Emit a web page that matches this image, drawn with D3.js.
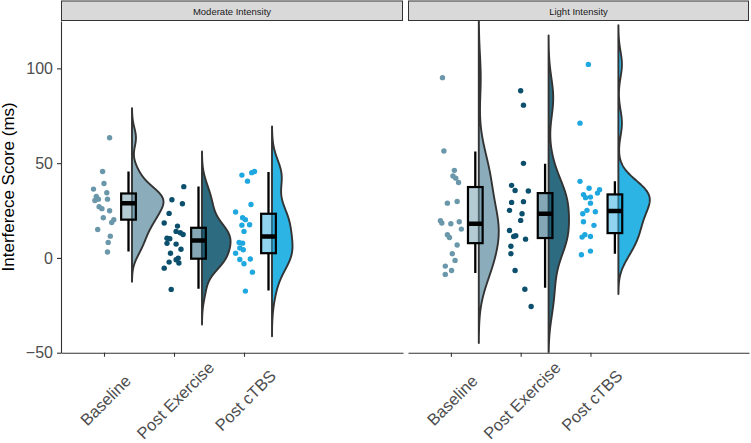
<!DOCTYPE html>
<html><head><meta charset="utf-8">
<script src="https://cdn.jsdelivr.net/npm/d3@7"></script>
<style>body{margin:0;background:#fff} svg{display:block;font-family:"Liberation Sans",Arial,sans-serif}</style>
</head><body><svg id="chart" width="751" height="443"></svg>
<script>
// ---------- data ----------
const panels = ["Moderate Intensity", "Light Intensity"];
const categories = ["Baseline", "Post Exercise", "Post cTBS"];
const yTicks = [-50, 0, 50, 100];
const yTitle = "Interferece Score (ms)";

const modBaseline = [63.4,45.6,39.3,36.3,34.4,32.5,31.0,30.3,31.0,27.0,26.0,24.9,21.2,20.2,18.7,15.0,11.5,8.2,3.1];
const modBaselineJitter = [0.08,-0.02,0.00,-0.15,0.04,-0.11,-0.08,-0.13,0.05,-0.07,-0.03,0.08,-0.01,0.14,0.11,-0.09,0.09,0.06,0.05];
const modPostEx = [37.6,30.7,28.6,23.5,18.4,16.8,14.0,13.3,12.4,10.4,10.1,7.7,7.3,4.6,2.5,-0.1,-1.0,-2.7,-2.2,-5.4,-16.6];
const modPostExJitter = [0.14,-0.03,0.12,-0.07,-0.14,0.05,0.03,0.09,0.13,-0.10,-0.06,-0.10,0.03,0.10,-0.05,0.06,0.03,0.07,-0.07,-0.14,-0.04];
const modCtbs = [43.7,40.5,45.0,45.6,28.2,24.2,21.2,20.2,17.3,17.5,14.0,8.2,7.8,5.2,4.3,2.5,-0.6,-0.8,-3.1,-7.5,-17.5];
const modCtbsJitter = [-0.03,0.05,0.11,0.15,0.10,-0.12,-0.02,0.02,-0.03,0.08,0.00,-0.07,-0.02,-0.06,-0.01,-0.12,0.09,-0.06,0.00,0.12,0.02];

const lightBaseline = [95.1,56.4,46.2,43.2,42.1,39.8,28.9,29.8,19.6,18.4,18.0,19.1,15.2,12.2,10.8,6.8,2.2,-1.3,-4.3,-6.6,-8.7];
const lightBaselineJitter = [-0.12,-0.10,0.05,0.03,0.07,0.11,-0.05,0.09,-0.15,-0.13,0.00,0.12,0.15,-0.05,-0.02,0.09,0.02,0.06,-0.08,0.01,-0.08];
const lightPostEx = [88.2,80.6,49.9,38.3,35.6,35.3,29.3,29.7,25.1,23.3,19.8,14.5,11.7,11.3,9.9,6.2,2.2,-6.6,-16.5,-25.6];
const lightPostExJitter = [0.00,0.04,0.04,-0.13,-0.08,0.11,-0.13,0.04,-0.16,0.02,0.00,-0.16,-0.07,-0.10,0.07,-0.14,-0.14,-0.08,0.06,0.15];
const lightCtbs = [102.1,71.1,40.4,36.8,36.0,34.2,33.4,31.8,32.1,28.9,24.4,25.1,23.3,19.1,17.2,11.0,12.2,11.3,1.7,3.6];
const lightCtbsJitter = [-0.03,-0.15,-0.15,-0.02,0.13,0.10,-0.10,-0.07,0.00,0.00,0.07,-0.05,-0.11,-0.10,0.05,-0.12,-0.08,0.00,-0.13,0.00];

// box stats: [lower whisker, Q1, median, Q3, upper whisker]
const modBoxes = [[3.4,20.2,28.9,34.0,45.6],[-16.3,-0.4,9.2,15.9,37.7],[-17.2,2.5,11.3,23.3,45.3]];
const lightBoxes = [[-8.0,7.8,18.0,37.4,56.2],[-15.7,10.5,23.3,34.2,49.7],[2.2,13.1,24.7,33.5,40.4]];

// ---------- styles ----------
const pointColors = ["#6b97aa", "#0b4f6c", "#1fa8e0"];
const violinColors = ["#8aacbb", "#2d6c80", "#2cb4e4"];

const panelData = [
  { name: panels[0], groups: [
    { values: modBaseline, jitter: modBaselineJitter, box: modBoxes[0] },
    { values: modPostEx, jitter: modPostExJitter, box: modBoxes[1] },
    { values: modCtbs, jitter: modCtbsJitter, box: modBoxes[2] } ] },
  { name: panels[1], groups: [
    { values: lightBaseline, jitter: lightBaselineJitter, box: lightBoxes[0] },
    { values: lightPostEx, jitter: lightPostExJitter, box: lightBoxes[1] },
    { values: lightCtbs, jitter: lightCtbsJitter, box: lightBoxes[2] } ] }
];

// ---------- layout ----------
const svg = d3.select("#chart");
const plotTop = 21, plotBottom = 352.7;
const panelX = [[61, 403], [408, 749]];
const xDomain = [1 - 43/70, 1 + (342 - 43)/70];
const y = d3.scaleLinear().domain([-50, 125]).range([plotBottom, plotTop]);

const boxOffset = 0.35, boxWidth = 0.21, violinOffset = 0.40, violinMax = 0.45;

function bwNrd0(x) {
  const s = d3.deviation(x);
  const sorted = x.slice().sort(d3.ascending);
  const iqr = d3.quantileSorted(sorted, 0.75) - d3.quantileSorted(sorted, 0.25);
  let lo = Math.min(s, iqr / 1.34);
  if (!(lo > 0)) lo = s || Math.abs(x[0]) || 1;
  return 0.9 * lo * Math.pow(x.length, -0.2);
}
function kde(x) {
  const bw = bwNrd0(x);
  const lo = d3.min(x) - 3 * bw, hi = d3.max(x) + 3 * bw;
  const n = 512, out = [];
  for (let i = 0; i < n; i++) {
    const t = lo + (hi - lo) * i / (n - 1);
    let s = 0;
    for (const v of x) { const z = (t - v) / bw; s += Math.exp(-0.5 * z * z); }
    out.push([t, s / (x.length * bw * Math.sqrt(2 * Math.PI))]);
  }
  return out;
}

const defs = svg.append("defs");

panelData.forEach((p, pi) => {
  const [x0, x1] = panelX[pi];
  const x = d3.scaleLinear().domain(xDomain).range([x0, x1]);
  const g = svg.append("g");

  defs.append("clipPath").attr("id", "clip" + pi)
    .append("rect").attr("x", x0).attr("y", plotTop).attr("width", x1 - x0).attr("height", plotBottom - plotTop);

  const plot = g.append("g").attr("clip-path", `url(#clip${pi})`);

  const dens = p.groups.map(gr => kde(gr.values));
  const maxD = d3.max(dens, d => d3.max(d, e => e[1]));

  dens.forEach((d, ci) => {
    const base = ci + 1 + violinOffset;
    const pts = d.map(([t, v]) => [x(base + v / maxD * violinMax), y(t)]);
    const back = d.slice().reverse().map(([t]) => [x(base), y(t)]);
    plot.append("path")
      .attr("d", d3.line()(pts.concat(back)) + "Z")
      .attr("fill", violinColors[ci])
      .attr("stroke", "#333333")
      .attr("stroke-width", 1.9)
      .attr("stroke-linejoin", "round");
  });

  p.groups.forEach((gr, ci) => {
    plot.append("g").selectAll("circle").data(gr.values).join("circle")
      .attr("cx", (v, i) => x(ci + 1 + gr.jitter[i]))
      .attr("cy", v => y(v))
      .attr("r", 2.7)
      .attr("fill", pointColors[ci]);
  });

  p.groups.forEach((gr, ci) => {
    const [wl, q1, med, q3, wh] = gr.box;
    const cx = x(ci + 1 + boxOffset);
    const hw = (x(boxWidth) - x(0)) / 2;
    const bg = plot.append("g");
    bg.append("line").attr("x1", cx).attr("x2", cx).attr("y1", y(q3)).attr("y2", y(wh))
      .attr("stroke", "#000").attr("stroke-width", 2.3);
    bg.append("line").attr("x1", cx).attr("x2", cx).attr("y1", y(q1)).attr("y2", y(wl))
      .attr("stroke", "#000").attr("stroke-width", 2.3);
    bg.append("rect").attr("x", cx - hw).attr("y", y(q3)).attr("width", 2 * hw).attr("height", y(q1) - y(q3))
      .attr("fill", pointColors[ci]).attr("fill-opacity", 0.5)
      .attr("stroke", "#000").attr("stroke-width", 2.2);
    bg.append("line").attr("x1", cx - hw).attr("x2", cx + hw).attr("y1", y(med)).attr("y2", y(med))
      .attr("stroke", "#000").attr("stroke-width", 4.5);
  });

  g.append("rect").attr("x", x0 + 0.5).attr("y", 1).attr("width", x1 - x0 - 1).attr("height", 19.5)
    .attr("fill", "#d9d9d9").attr("stroke", "#333333").attr("stroke-width", 1);
  g.append("text").attr("x", (x0 + x1) / 2).attr("y", 15.3).attr("text-anchor", "middle")
    .attr("font-size", "9.5px").attr("fill", "#1a1a1a").text(p.name);

  const xAxis = d3.axisBottom(x).tickValues([1, 2, 3]).tickFormat(v => categories[v - 1])
    .tickSize(4).tickSizeOuter(0);
  const ax = g.append("g").attr("transform", `translate(0,${plotBottom})`).call(xAxis);
  ax.select(".domain").attr("stroke", "#333333").attr("stroke-width", 1.1);
  ax.selectAll(".tick line").attr("stroke", "#333333").attr("stroke-width", 1.1);
  ax.selectAll(".tick text")
    .attr("fill", "#4d4d4d").attr("font-size", "16.5px").attr("font-family", "'Liberation Sans', Arial, sans-serif")
    .attr("text-anchor", "middle").attr("dy", null)
    .attr("y", 0).attr("transform", `translate(5,${404.5 - plotBottom}) rotate(-45)`);

  if (pi === 0) {
    const yAxis = d3.axisLeft(y).tickValues(yTicks).tickSize(4).tickPadding(4).tickSizeOuter(0);
    const ay = g.append("g").attr("transform", `translate(${x0},0)`).call(yAxis);
    ay.select(".domain").attr("stroke", "#333333").attr("stroke-width", 1.1);
    ay.selectAll(".tick line").attr("stroke", "#333333").attr("stroke-width", 1.1);
    ay.selectAll(".tick text").attr("fill", "#4d4d4d").attr("font-size", "16px")
      .attr("font-family", "'Liberation Sans', Arial, sans-serif");
  }
});

svg.append("text")
  .attr("transform", `translate(13.5,${(plotTop + plotBottom) / 2}) rotate(-90)`)
  .attr("text-anchor", "middle").attr("font-size", "17px").attr("fill", "#000")
  .text(yTitle);
</script></body></html>
